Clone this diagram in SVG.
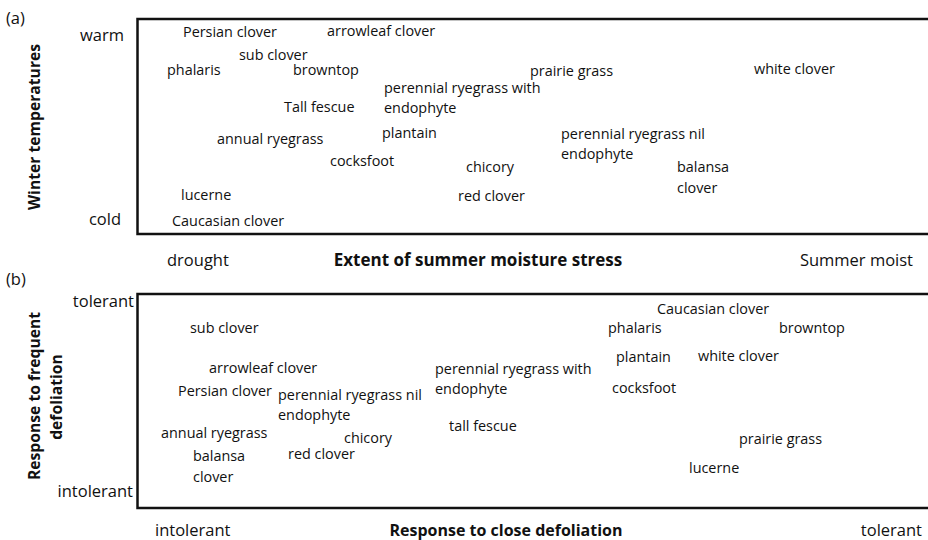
<svg xmlns="http://www.w3.org/2000/svg" width="928" height="540" viewBox="0 0 928 540">
<style>
text{font-family:"Open Sans","Liberation Sans",sans-serif;font-size:14.4px;fill:#111}
.t{font-size:16.5px}
.e{text-anchor:end}
.b{font-weight:bold}
.r{font-size:15.7px}
.m{text-anchor:middle}
.frame{fill:none;stroke:#111;stroke-width:2.5}
</style>
<rect width="928" height="540" fill="#fff"/>
<g id="panel-a">
<path class="frame" d="M930,19 H137.5 V234 H930"/>
<text class="t" x="6" y="24">(a)</text>
<text class="t e" x="124" y="41">warm</text>
<text class="t e" x="121" y="225">cold</text>
<text class="b m r" transform="translate(40,127) rotate(-90)">Winter temperatures</text>
<text class="t" x="167" y="266">drought</text>
<text class="b m" x="478" y="266" style="font-size:17px">Extent of summer moisture stress</text>
<text class="t e" x="913" y="266">Summer moist</text>
<g id="a-persian"><text x="183" y="37">Persian clover</text></g>
<g id="a-arrowleaf"><text x="327" y="36">arrowleaf clover</text></g>
<g id="a-sub"><text x="239" y="60">sub clover</text></g>
<g id="a-phalaris"><text x="167" y="75">phalaris</text></g>
<g id="a-browntop"><text x="293" y="75">browntop</text></g>
<g id="a-prairie"><text x="530" y="76">prairie grass</text></g>
<g id="a-white"><text x="754" y="74">white clover</text></g>
<g id="a-prwith"><text x="384" y="93">perennial ryegrass with</text><text x="384" y="113">endophyte</text></g>
<g id="a-tall"><text x="284" y="112">Tall fescue</text></g>
<g id="a-annual"><text x="217" y="144">annual ryegrass</text></g>
<g id="a-plantain"><text x="382" y="138">plantain</text></g>
<g id="a-prnil"><text x="561" y="139">perennial ryegrass nil</text><text x="561" y="159">endophyte</text></g>
<g id="a-cocksfoot"><text x="330" y="166">cocksfoot</text></g>
<g id="a-chicory"><text x="466" y="172">chicory</text></g>
<g id="a-balansa"><text x="677" y="172">balansa</text><text x="677" y="193">clover</text></g>
<g id="a-lucerne"><text x="181" y="200">lucerne</text></g>
<g id="a-red"><text x="458" y="201">red clover</text></g>
<g id="a-caucasian"><text x="172" y="226">Caucasian clover</text></g>
</g>
<g id="panel-b">
<path class="frame" d="M930,294 H137.5 V508 H930"/>
<text class="t" x="6" y="285">(b)</text>
<text class="t e" x="134" y="307">tolerant</text>
<text class="t e" x="133" y="497">intolerant</text>
<text class="b m r" transform="translate(40,396) rotate(-90)">Response to frequent</text>
<text class="b m r" transform="translate(62,397) rotate(-90)">defoliation</text>
<text class="t" x="155" y="536">intolerant</text>
<text class="b m" x="506" y="536" style="font-size:16px">Response to close defoliation</text>
<text class="t e" x="922" y="536">tolerant</text>
<g id="b-caucasian"><text x="657" y="314">Caucasian clover</text></g>
<g id="b-sub"><text x="190" y="333">sub clover</text></g>
<g id="b-phalaris"><text x="608" y="333">phalaris</text></g>
<g id="b-browntop"><text x="779" y="333">browntop</text></g>
<g id="b-plantain"><text x="616" y="362">plantain</text></g>
<g id="b-white"><text x="698" y="361">white clover</text></g>
<g id="b-arrowleaf"><text x="209" y="373">arrowleaf clover</text></g>
<g id="b-prwith"><text x="435" y="374">perennial ryegrass with</text><text x="435" y="394">endophyte</text></g>
<g id="b-persian"><text x="178" y="396">Persian clover</text></g>
<g id="b-prnil"><text x="278" y="400">perennial ryegrass nil</text><text x="278" y="420">endophyte</text></g>
<g id="b-cocksfoot"><text x="612" y="393">cocksfoot</text></g>
<g id="b-tall"><text x="449" y="431">tall fescue</text></g>
<g id="b-annual"><text x="161" y="438">annual ryegrass</text></g>
<g id="b-chicory"><text x="344" y="443">chicory</text></g>
<g id="b-prairie"><text x="739" y="444">prairie grass</text></g>
<g id="b-red"><text x="288" y="459">red clover</text></g>
<g id="b-balansa"><text x="193" y="461">balansa</text><text x="193" y="482">clover</text></g>
<g id="b-lucerne"><text x="689" y="473">lucerne</text></g>
</g>
</svg>
